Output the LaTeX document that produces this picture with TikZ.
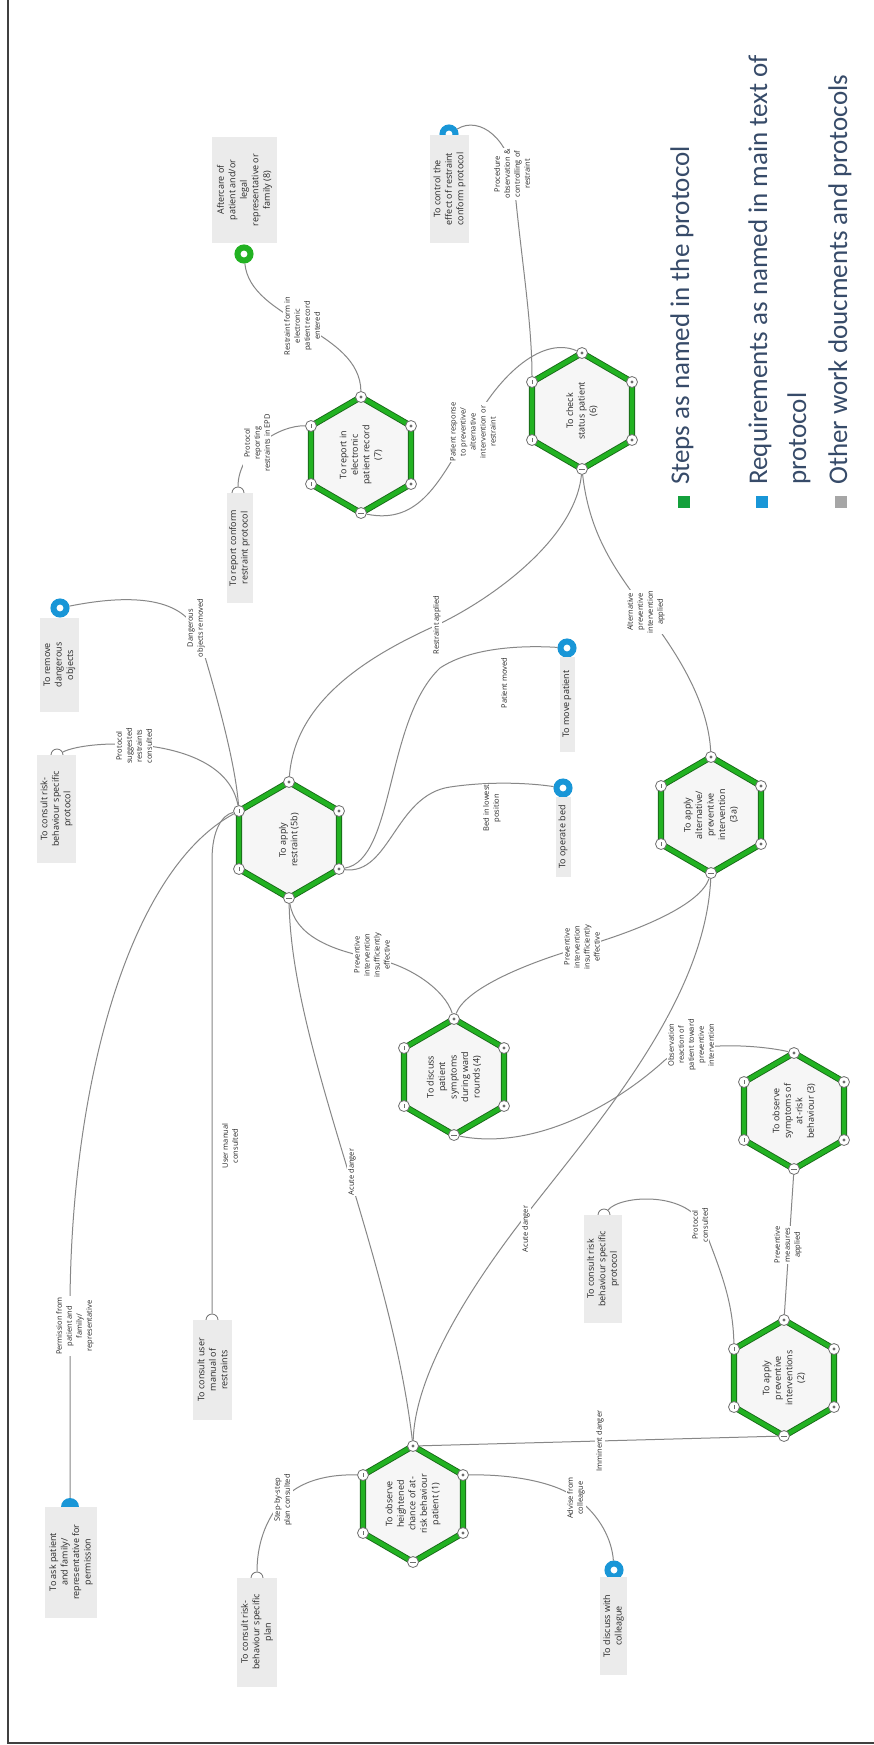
\documentclass[tikz,border=0pt]{standalone}
\usepackage{fontspec}
\setmainfont{Open Sans}
\newfontfamily\legfont{Carlito}
\definecolor{linegray}{RGB}{135,135,135}
\definecolor{portgray}{RGB}{110,110,110}
\definecolor{boxgray}{RGB}{235,235,235}
\definecolor{hexfillc}{RGB}{246,246,246}
\definecolor{stepgreen}{RGB}{34,178,34}
\definecolor{stepdark}{RGB}{25,105,25}
\definecolor{reqblue}{RGB}{25,150,215}
\definecolor{othergray}{RGB}{166,166,166}
\definecolor{legtext}{RGB}{55,75,105}
\definecolor{legreen}{RGB}{20,160,60}
\definecolor{textc}{RGB}{40,40,40}
\tikzset{
 conn/.style={draw=linegray, line width=1pt},
 port/.style={circle, draw=portgray, fill=white, line width=0.8pt, minimum size=11pt, inner sep=0pt},
 hextext/.style={rotate=90, align=center, font=\fontsize{9}{11.5}\selectfont, text=textc, inner sep=0pt},
 gbox/.style={rectangle, fill=boxgray, rotate=90, align=center, font=\fontsize{9}{11.5}\selectfont, text=textc, inner sep=1pt},
 lab/.style={rotate=90, align=center, fill=white, font=\fontsize{7.5}{10}\selectfont, text=textc, inner sep=1pt},
 ringmark/.style={circle, draw=#1, line width=6pt, fill=white, minimum size=13pt, inner sep=0pt, outer sep=3pt},
 sock/.style={circle, draw=portgray, fill=white, line width=0.8pt, minimum size=12pt, inner sep=0pt},
 domemark/.style={circle, fill=reqblue, minimum size=18pt, inner sep=0pt},
 legtxt/.style={rotate=90, anchor=west, font=\legfont\fontsize{27}{32}\selectfont, text=legtext, inner sep=0pt},
}
\newcommand{\hexa}[4]{%
 \draw[line width=6.2pt, stepdark, fill=hexfillc, line join=round] (#2,#3-58) -- (#2+50,#3-29) -- (#2+50,#3+29) -- (#2,#3+58) -- (#2-50,#3+29) -- (#2-50,#3-29) -- cycle;
 \draw[line width=4.4pt, stepgreen, line join=round] (#2,#3-58) -- (#2+50,#3-29) -- (#2+50,#3+29) -- (#2,#3+58) -- (#2-50,#3+29) -- (#2-50,#3-29) -- cycle;
 \node[hextext] (#1) at (#2,#3) {#4};
 \node[port] (#1t) at (#2,#3-58) {};
 \node[port] (#1b) at (#2,#3+58) {};
 \node[port] (#1ul) at (#2-50,#3-29) {};
 \node[port] (#1ur) at (#2+50,#3-29) {};
 \node[port] (#1ll) at (#2-50,#3+29) {};
 \node[port] (#1lr) at (#2+50,#3+29) {};
 \fill[portgray] (#2,#3-58) circle (1.6);
 \fill[portgray] (#2+50,#3-29) circle (1.6);
 \fill[portgray] (#2+50,#3+29) circle (1.6);
 \draw[portgray, line width=0.8pt] (#2-3,#3+58) -- (#2+3,#3+58);
 \draw[portgray, line width=0.8pt] (#2-50,#3-31) -- (#2-50,#3-27);
 \draw[portgray, line width=0.8pt] (#2-50,#3+27) -- (#2-50,#3+31);
}
\begin{document}
\begin{tikzpicture}[x=1pt,y=-1pt]
\useasboundingbox (0,0) rectangle (874,1745);
\fill[white] (0,0) rectangle (874,1745);
\draw[line width=2pt, black!75] (8,0) -- (8,1743) -- (874,1743);

% hexagons
\hexa{HG}{361}{455}{To report in\\electronic\\patient record\\(7)}
\hexa{HF}{582}{411}{To check\\status patient\\(6)}
\hexa{HE}{289}{840}{To apply\\restraint (5b)}
\hexa{HC}{711}{815}{To apply\\alternative/\\preventive\\intervention\\(3a)}
\hexa{HD}{454}{1077}{To discuss\\patient\\symptoms\\during ward\\rounds (4)}
\hexa{HB}{794}{1111}{To observe\\symptoms of\\at-risk\\behaviour (3)}
\hexa{HA}{784}{1378}{To apply\\preventive\\interventions\\(2)}
\hexa{HZ}{413}{1504}{To observe\\heightened\\chance of at-\\risk behaviour\\patient (1)}

% markers
\node[ringmark=stepgreen] (R8) at (244,254) {};
\node[ringmark=reqblue] (Dctrl) at (449,134) {};
\node[ringmark=reqblue] (Rrem) at (60,608) {};
\node[sock] (Scrp) at (57,755) {};
\node[sock] (Srep) at (238,493) {};
\node[ringmark=reqblue] (Rmove) at (567,648) {};
\node[ringmark=reqblue] (Rbed) at (563,788) {};
\node[sock] (Sum) at (212,1320) {};
\node[domemark] (Dask) at (70,1507) {};
\node[sock] (Splan) at (257,1578) {};
\node[ringmark=reqblue] (Rcol) at (614,1570) {};
\node[sock] (Scrp2) at (604,1215) {};

% boxes
\node[gbox, minimum width=106, minimum height=65] (B8) at (244.5,190) {Aftercare of\\patient and/or\\legal\\representative or\\family (8)};
\node[gbox, minimum width=108, minimum height=39] (Bctrl) at (449.5,189) {To control the\\effect of restraint\\conform protocol};
\node[gbox, minimum width=94, minimum height=39] (Brem) at (59.5,665) {To remove\\dangerous\\objects};
\node[gbox, minimum width=108, minimum height=39] (Bcrp) at (56.5,809) {To consult risk-\\behaviour specific\\protocol};
\node[gbox, minimum width=110, minimum height=26] (Brep) at (239.5,548) {To report conform\\restraint protocol};
\node[gbox, minimum width=95, minimum height=15] (Bmove) at (567,704) {To move patient};
\node[gbox, minimum width=80, minimum height=15] (Bbed) at (563,837) {To operate bed};
\node[gbox, minimum width=100, minimum height=39] (Bum) at (212.5,1370) {To consult user\\manual of\\restraints};
\node[gbox, minimum width=111, minimum height=52] (Bask) at (71,1562) {To ask patient\\and family/\\representative for\\permission};
\node[gbox, minimum width=109, minimum height=40] (Bplan) at (257,1632) {To consult risk-\\behaviour specific\\plan};
\node[gbox, minimum width=98, minimum height=27] (Bcol) at (613.5,1626) {To discuss with\\colleague};
\node[gbox, minimum width=108, minimum height=38] (Bcrp2) at (603,1269) {To consult risk\\behaviour specific\\protocol};

% connectors
\draw[conn] (R8) .. controls (250,320) and (360,330) .. (HGt);
\draw[conn] (Srep) .. controls (238,450) and (280,425) .. (HGul);
\draw[conn] (HGb) .. controls (420,525) and (440,480) .. (470,430) .. controls (495,380) and (540,335) .. (HFt);
\draw[conn] (Dctrl) .. controls (480,115) and (510,140) .. (514,180) .. controls (520,250) and (532,320) .. (HFul);
\draw[conn] (HFb) .. controls (575,540) and (490,600) .. (437,625) .. controls (370,655) and (295,700) .. (HEt);
\draw[conn] (HFb) .. controls (590,540) and (620,575) .. (646,612) .. controls (675,650) and (708,700) .. (HCt);
\draw[conn] (Rrem) .. controls (150,590) and (190,605) .. (200,640) .. controls (215,690) and (235,760) .. (HEul);
\draw[conn] (Scrp) .. controls (90,738) and (225,735) .. (HEul);
\draw[conn] (Sum) -- (212,860) .. controls (212,830) and (222,815) .. (HEul);
\draw[conn] (Dask) -- (70,1300) .. controls (72,1080) and (130,870) .. (HEul);
\draw[conn] (HElr) .. controls (395,860) and (385,720) .. (440,668) .. controls (470,648) and (520,645) .. (Rmove);
\draw[conn] (HElr) .. controls (390,875) and (395,795) .. (450,787) .. controls (490,781) and (530,783) .. (Rbed);
\draw[conn] (HEb) .. controls (295,935) and (330,950) .. (372,958) .. controls (410,965) and (445,990) .. (HDt);
\draw[conn] (HCb) .. controls (700,905) and (640,930) .. (582,947) .. controls (520,965) and (465,990) .. (HDt);
\draw[conn] (HCb) .. controls (705,1000) and (600,1120) .. (526,1215) .. controls (460,1300) and (415,1380) .. (HZt);
\draw[conn] (HEb) .. controls (292,1050) and (390,1250) .. (HZt);
\draw[conn] (HDb) .. controls (530,1150) and (610,1110) .. (665,1060) .. controls (690,1040) and (760,1045) .. (HBt);
\draw[conn] (HBb) -- (HAt);
\draw[conn] (Scrp2) .. controls (620,1195) and (690,1190) .. (705,1230) .. controls (720,1270) and (733,1300) .. (HAul);
\draw[conn] (HAb) -- (HZt);
\draw[conn] (HZul) .. controls (320,1474) and (295,1485) .. (283,1500) .. controls (265,1520) and (257,1545) .. (Splan);
\draw[conn] (HZur) .. controls (520,1474) and (560,1485) .. (576,1498) .. controls (600,1515) and (612,1540) .. (Rcol);

% labels
\node[lab] (Lrf) at (302,326) {Restraint form in\\electronic\\patient record\\entered};
\node[lab] (Lproc) at (512,174) {Procedure\\observation \&\\controlling of\\restraint};
\node[lab] (Lresp) at (473,432) {Patient response\\to preventive/\\alternative\\intervention or\\restraint};
\node[lab] (Lprep) at (257,443) {Protocol\\reporting\\restraints in EPD};
\node[lab] (Ldang) at (196,628) {Dangerous\\objects removed};
\node[lab] (Lpsug) at (134,746) {Protocol\\suggested\\restraints\\consulted};
\node[lab] (Lrapp) at (437,625) {Restraint applied};
\node[lab] (Lmoved) at (504,683) {Patient moved};
\node[lab] (Lbed) at (492,808) {Bed in lowest\\position};
\node[lab] (Laltp) at (646,612) {Alternative\\preventive\\intervention\\applied};
\node[lab] (Lpii1) at (372,955) {Preventive\\intervention\\insufficiently\\effective};
\node[lab] (Lpii2) at (582,947) {Preventive\\intervention\\insufficiently\\effective};
\node[lab] (Lum) at (230,1146) {User manual\\consulted};
\node[lab] (Lac1) at (352,1172) {Acute danger};
\node[lab] (Lac2) at (526,1229) {Acute danger};
\node[lab] (Lobs) at (691,1045) {Observation\\reaction of\\patient toward\\preventive\\intervention};
\node[lab] (Lpm) at (788,1245) {Preventive\\measures\\applied};
\node[lab] (Lpc) at (700,1225) {Protocol\\consulted};
\node[lab] (Limm) at (600,1441) {Imminent danger};
\node[lab] (Ladv) at (576,1498) {Advise from\\colleague};
\node[lab] (Lstep) at (283,1500) {Step-by-step\\plan consulted};
\node[lab] (Lperm) at (75,1326) {Permission from\\patient and\\family/\\representative};

% legend
\node[fill=legreen, minimum size=12pt, inner sep=0pt] (Q1) at (684,502) {};
\node[fill=reqblue, minimum size=12pt, inner sep=0pt] (Q2) at (762,502) {};
\node[fill=othergray, minimum size=12pt, inner sep=0pt] (Q3) at (841,502) {};
\node[legtxt] (T1) at (682,485) {Steps as named in the protocol};
\node[legtxt] (T2) at (760,485) {Requirements as named in main text of};
\node[legtxt] (T2b) at (799,485) {protocol};
\node[legtxt] (T3) at (840,485) {Other work doucments and protocols};
\end{tikzpicture}
\end{document}
